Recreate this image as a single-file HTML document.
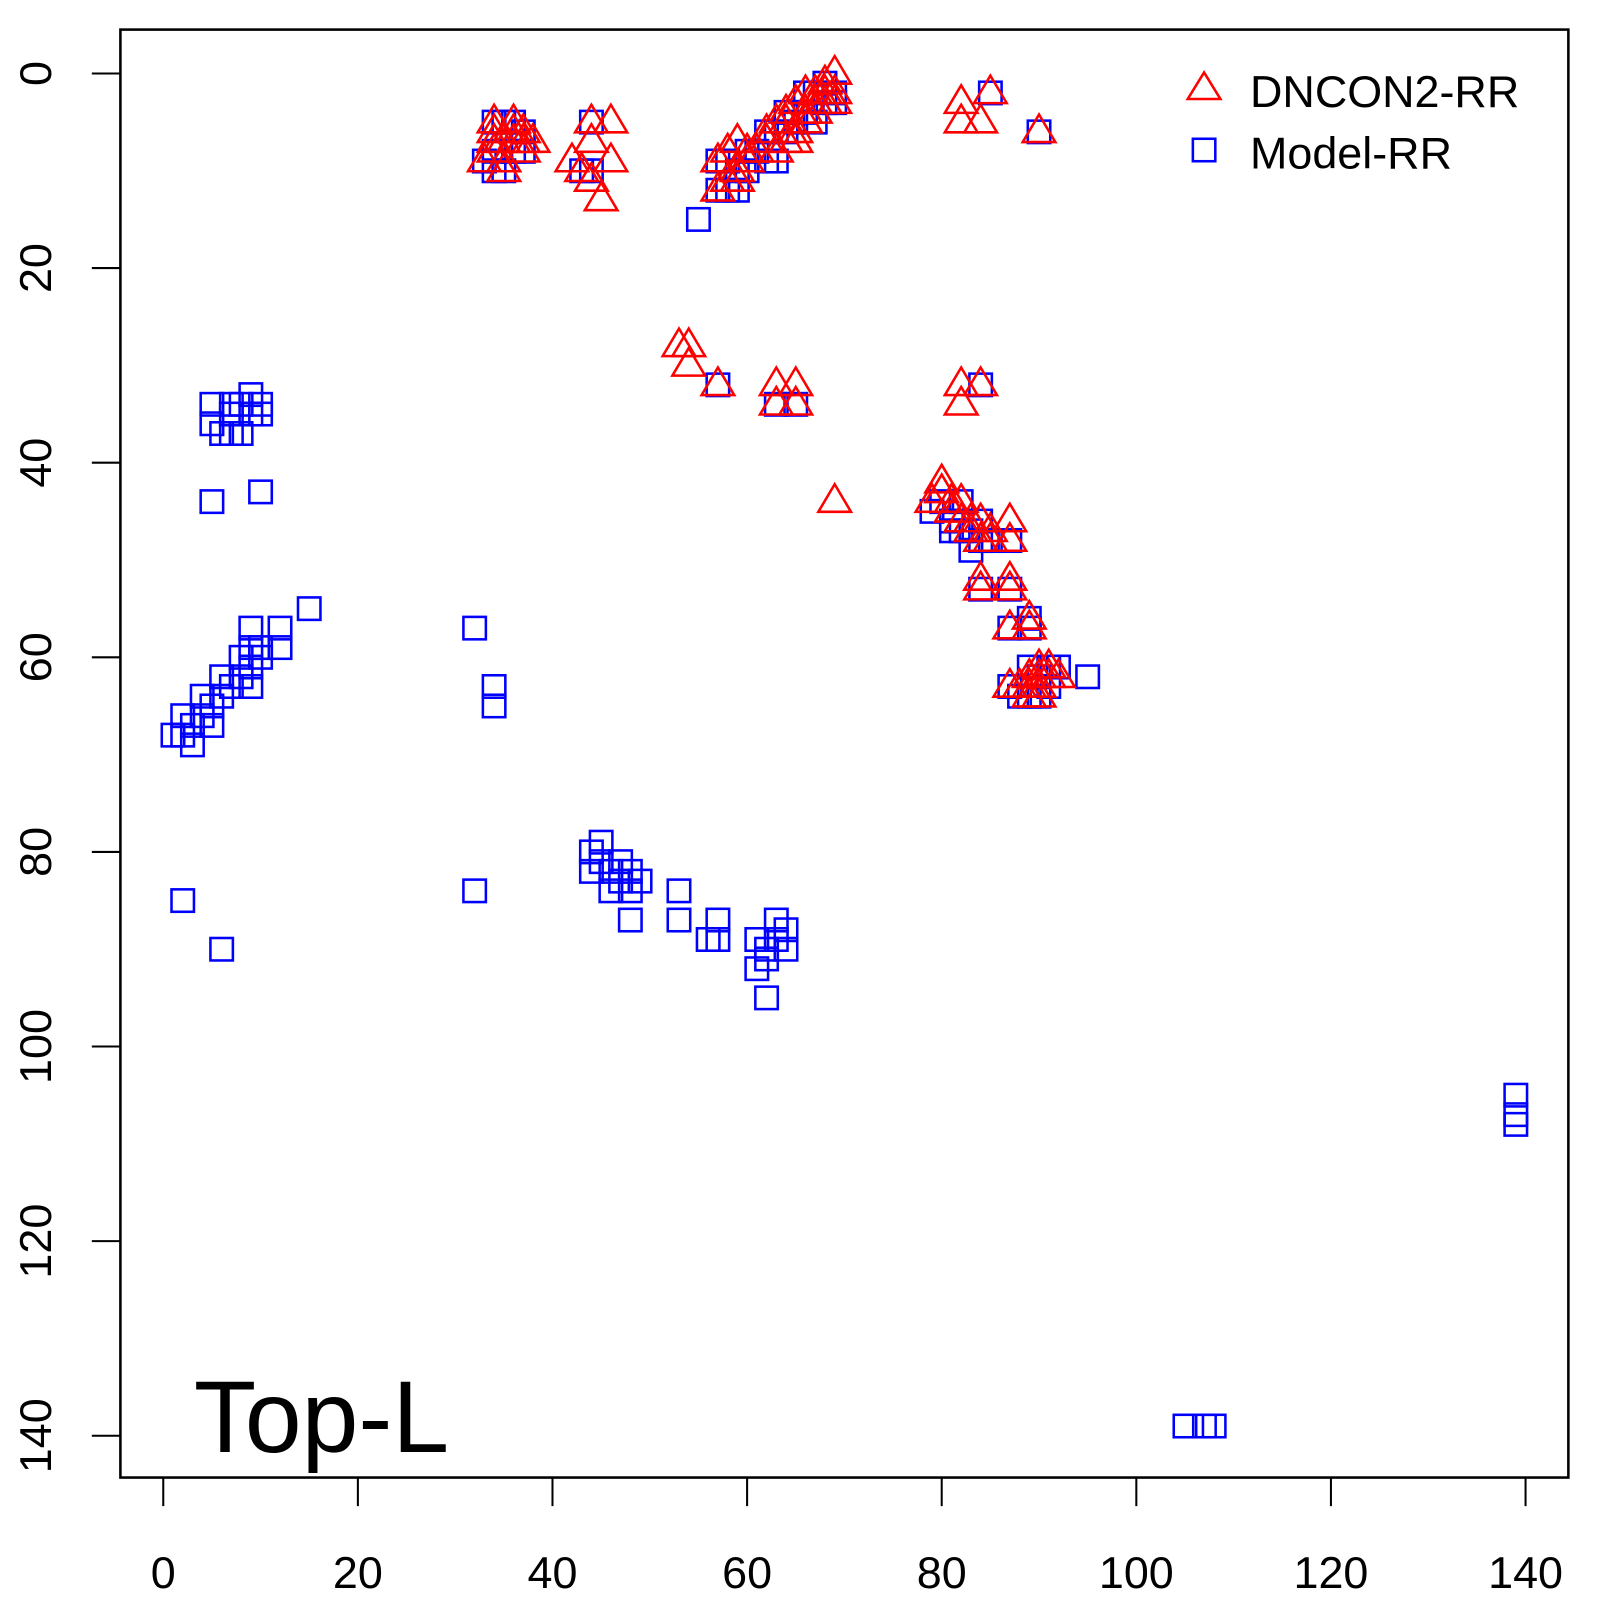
<!DOCTYPE html>
<html><head><meta charset="utf-8"><style>html,body{margin:0;padding:0;background:#fff}svg{display:block}</style></head>
<body>
<svg id="s" xmlns="http://www.w3.org/2000/svg" width="1600" height="1600" viewBox="0 0 1568 1568" font-family="Liberation Sans, sans-serif">
<rect x="0" y="0" width="1568" height="1568" fill="#fff"/>
<g id="pts"></g>
<rect x="118" y="29" width="1419" height="1419" fill="none" stroke="#000" stroke-width="2.5"/>
<g id="ax" stroke="#000" stroke-width="2"></g>
<g id="lab" font-size="44" fill="#000"></g>
<text x="190" y="1423" font-size="100" fill="#000">Top-L</text>
<polygon points="1164,97 1196,97 1180,71" fill="none" stroke="#f00" stroke-width="2.5"/>
<text x="1225" y="105" font-size="44">DNCON2-RR</text>
<rect x="1169" y="136" width="22" height="22" fill="none" stroke="#00f" stroke-width="2.5"/>
<text x="1225" y="165" font-size="44">Model-RR</text>
</svg>
<script>
var NS="http://www.w3.org/2000/svg";
function X(v){return 160+v*9.536}function Y(v){return 72+v*9.536}
var sq=[[34,5],[35,5],[36,5],[37,6],[33,9],[34,10],[35,10],[36,8],[37,8],[34,8],[44,5],[43,10],[44,10],
[57,9],[57,12],[58,12],[59,12],[58,9],[59,10],[60,10],[60,8],[61,8],[62,6],[62,9],[63,9],[63,6],[64,4],[64,6],[65,5],[66,2],[66,4],[67,2],[67,5],[68,1],[68,3],[69,2],[69,3],
[55,15],[57,32],[63,34],[65,34],[84,32],[85,2],[90,6],
[5,34],[5,36],[6,37],[7,35],[7,37],[8,34],[8,37],[9,33],[9,35],[10,34],[10,35],[7,34],[5,44],[10,43],
[1,68],[2,66],[2,68],[3,67],[3,69],[4,64],[4,66],[5,65],[5,67],[6,62],[6,64],[7,63],[8,60],[8,62],[9,57],[9,59],[9,61],[9,63],[10,60],[10,59],[12,57],[12,59],[15,55],
[32,57],[34,63],[34,65],[2,85],[6,90],[32,84],
[44,80],[45,79],[44,82],[45,81],[46,82],[46,84],[47,81],[47,83],[48,82],[48,84],[49,83],[48,87],[53,84],[53,87],[56,89],[57,87],[57,89],[61,89],[61,92],[62,90],[62,95],[63,87],[63,89],[64,88],[64,90],[62,91],
[79,45],[80,44],[81,46],[81,47],[82,44],[82,47],[83,47],[83,49],[84,46],[84,48],[84,53],[85,48],[87,48],[87,53],[87,57],[87,63],[88,64],[89,56],[89,57],[89,61],[89,64],[90,62],[90,64],[91,61],[91,63],[92,61],[95,62],
[139,105],[139,107],[139,108],[105,139],[107,139],[108,139]];
var tr=[[33,9],[34,5],[34,6],[34,7],[34,8],[35,9],[35,10],[36,5],[36,6],[36,7],[37,6],[37,7],[37,8],[38,7],[35,7],
[44,5],[46,5],[44,7],[42,9],[43,10],[46,9],[44,11],[45,13],
[57,9],[57,12],[58,8],[58,11],[59,7],[59,10],[59,11],[60,8],[60,9],[61,8],[62,6],[62,7],[63,5],[63,8],[64,4],[64,5],[64,7],[65,3],[65,6],[65,7],[66,2],[66,4],[66,5],[67,2],[67,3],[67,4],[68,1],[68,2],[69,0],[69,2],[69,3],[68,3],
[53,28],[54,28],[54,30],[57,32],[63,32],[65,32],[63,34],[65,34],[69,44],
[82,3],[82,5],[84,5],[85,2],[90,6],[82,32],[82,34],[84,32],
[79,44],[80,43],[80,42],[81,44],[81,45],[82,44],[82,46],[83,46],[83,47],[84,46],[84,48],[85,47],[85,48],[84,52],[84,53],[87,46],[87,48],[87,52],[87,53],[87,57],[89,56],[89,57],[87,63],[88,63],[89,62],[89,63],[89,64],[90,61],[90,62],[90,63],[91,61],[91,62],[92,62],[90,64]];
var g=document.getElementById("pts");
sq.forEach(function(p){var r=document.createElementNS(NS,"rect");r.setAttribute("x",X(p[0])-11);r.setAttribute("y",Y(p[1])-11);r.setAttribute("width",22);r.setAttribute("height",22);r.setAttribute("fill","none");r.setAttribute("stroke","#00f");r.setAttribute("stroke-width","2.5");g.appendChild(r);});
tr.forEach(function(p){var x=X(p[0]),y=Y(p[1]);var t=document.createElementNS(NS,"polygon");t.setAttribute("points",(x-16)+","+(y+10)+" "+(x+16)+","+(y+10)+" "+x+","+(y-17));t.setAttribute("fill","none");t.setAttribute("stroke","#f00");t.setAttribute("stroke-width","2.5");g.appendChild(t);});
var ax=document.getElementById("ax"),lab=document.getElementById("lab");
for(var v=0;v<=140;v+=20){
var l=document.createElementNS(NS,"line");l.setAttribute("x1",X(v));l.setAttribute("x2",X(v));l.setAttribute("y1",1448);l.setAttribute("y2",1476);ax.appendChild(l);
var l2=document.createElementNS(NS,"line");l2.setAttribute("y1",Y(v));l2.setAttribute("y2",Y(v));l2.setAttribute("x1",90);l2.setAttribute("x2",118);ax.appendChild(l2);
var t=document.createElementNS(NS,"text");t.setAttribute("x",X(v));t.setAttribute("y",1556);t.setAttribute("text-anchor","middle");t.textContent=v;lab.appendChild(t);
var t2=document.createElementNS(NS,"text");t2.setAttribute("text-anchor","middle");t2.setAttribute("transform","translate(50,"+Y(v)+") rotate(-90)");t2.textContent=v;lab.appendChild(t2);}
</script>
</body></html>
